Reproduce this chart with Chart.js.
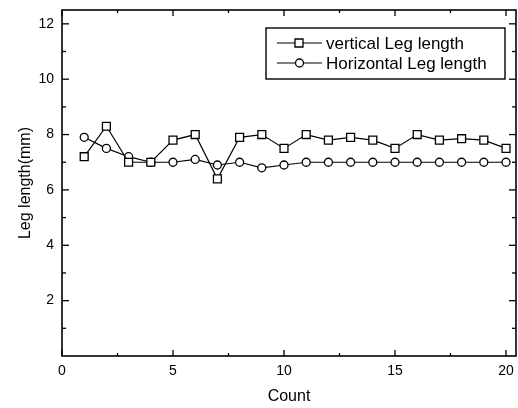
<!DOCTYPE html>
<html>
<head>
<meta charset="utf-8">
<script src="https://cdn.jsdelivr.net/npm/chart.js@4/dist/chart.umd.min.js"></script>
<style>
  html, body { margin: 0; padding: 0; background: #fff; }
  #wrap { width: 518px; height: 408px; }
</style>
</head>
<body>
<div id="wrap"><canvas id="c" width="518" height="408"></canvas></div>
<script>
const counts = [1, 2, 3, 4, 5, 6, 7, 8, 9, 10, 11, 12, 13, 14, 15, 16, 17, 18, 19, 20];
const verticalLeg = [7.2, 8.3, 7.0, 7.0, 7.8, 8.0, 6.4, 7.9, 8.0, 7.5, 8.0, 7.8, 7.9, 7.8, 7.5, 8.0, 7.8, 7.85, 7.8, 7.5];
const horizontalLeg = [7.9, 7.5, 7.2, 7.0, 7.0, 7.1, 6.9, 7.0, 6.8, 6.9, 7.0, 7.0, 7.0, 7.0, 7.0, 7.0, 7.0, 7.0, 7.0, 7.0];
const xTicks = [0, 5, 10, 15, 20];
const xMinorTicks = [2.5, 7.5, 12.5, 17.5];
const yTicks = [2, 4, 6, 8, 10, 12];
const yMinorTicks = [1, 3, 5, 7, 9, 11];
const seriesLabels = ['vertical Leg length', 'Horizontal Leg length'];

const FONT = "'Liberation Sans', Arial, Helvetica, sans-serif";

const framePlugin = {
  id: 'frame',
  afterDraw(chart) {
    const ctx = chart.ctx;
    const a = chart.chartArea;
    const xs = chart.scales.x, ys = chart.scales.y;
    ctx.save();
    ctx.strokeStyle = '#000';
    ctx.lineWidth = 1.6;
    ctx.strokeRect(a.left, a.top, a.right - a.left, a.bottom - a.top);
    ctx.lineWidth = 1.3;
    const tick = (x1, y1, x2, y2) => { ctx.beginPath(); ctx.moveTo(x1, y1); ctx.lineTo(x2, y2); ctx.stroke(); };
    xTicks.forEach(v => { const p = xs.getPixelForValue(v); tick(p, a.bottom, p, a.bottom - 6); tick(p, a.top, p, a.top + 6); });
    xMinorTicks.forEach(v => { const p = xs.getPixelForValue(v); tick(p, a.bottom, p, a.bottom - 3); tick(p, a.top, p, a.top + 3); });
    yTicks.forEach(v => { const p = ys.getPixelForValue(v); tick(a.left, p, a.left + 7, p); tick(a.right, p, a.right - 7, p); });
    yMinorTicks.forEach(v => { const p = ys.getPixelForValue(v); tick(a.left, p, a.left + 4, p); tick(a.right, p, a.right - 4, p); });

    // legend box
    const bx = 266, by = 28, bw = 239, bh = 51;
    ctx.fillStyle = '#fff';
    ctx.fillRect(bx, by, bw, bh);
    ctx.lineWidth = 1.4;
    ctx.strokeRect(bx, by, bw, bh);
    const rows = [43, 63];
    chart.data.datasets.forEach((ds, i) => {
      const y = rows[i];
      ctx.lineWidth = 1.2;
      tick(277, y, 322, y);
      ctx.fillStyle = '#fff';
      ctx.lineWidth = 1.3;
      ctx.beginPath();
      if (ds.pointStyle === 'rect') {
        ctx.rect(295, y - 4, 8, 8);
      } else {
        ctx.arc(299.5, y, 4, 0, Math.PI * 2);
      }
      ctx.fill();
      ctx.stroke();
      ctx.fillStyle = '#000';
      ctx.font = '17px ' + FONT;
      ctx.textBaseline = 'middle';
      ctx.textAlign = 'left';
      ctx.fillText(ds.label, 326, y + 1);
    });
    ctx.restore();
  }
};

new Chart(document.getElementById('c'), {
  type: 'line',
  data: {
    datasets: [
      {
        label: seriesLabels[0],
        data: counts.map((c, i) => ({ x: c, y: verticalLeg[i] })),
        borderColor: '#000',
        borderWidth: 1.2,
        pointStyle: 'rect',
        pointRadius: 5.6,
        pointBorderWidth: 1.3,
        pointBackgroundColor: '#fff',
        pointBorderColor: '#000',
        tension: 0
      },
      {
        label: seriesLabels[1],
        data: counts.map((c, i) => ({ x: c, y: horizontalLeg[i] })),
        borderColor: '#000',
        borderWidth: 1.2,
        pointStyle: 'circle',
        pointRadius: 4,
        pointBorderWidth: 1.3,
        pointBackgroundColor: '#fff',
        pointBorderColor: '#000',
        tension: 0
      }
    ]
  },
  options: {
    responsive: false,
    animation: false,
    devicePixelRatio: 1,
    layout: { autoPadding: false, padding: { top: 10, right: 2, left: 0, bottom: 0 } },
    plugins: { legend: { display: false }, tooltip: { enabled: false } },
    scales: {
      x: {
        type: 'linear',
        min: 0,
        max: 20.45,
        afterBuildTicks: s => { s.ticks = xTicks.map(v => ({ value: v })); },
        afterFit: s => { s.height = 52; s.paddingLeft = 0; s.paddingRight = 0; },
        grid: { display: false, drawTicks: false },
        border: { display: false },
        ticks: { color: '#000', font: { family: FONT, size: 14 }, padding: 7, maxRotation: 0, autoSkip: false },
        title: { display: true, text: 'Count', color: '#000', font: { family: FONT, size: 16 }, padding: { top: 0, bottom: 2 } }
      },
      y: {
        type: 'linear',
        min: 0,
        max: 12.5,
        afterBuildTicks: s => { s.ticks = yTicks.map(v => ({ value: v })); },
        afterFit: s => { s.width = 62; s.paddingTop = 0; s.paddingBottom = 0; },
        grid: { display: false, drawTicks: false },
        border: { display: false },
        ticks: { color: '#000', font: { family: FONT, size: 14 }, padding: 8 },
        title: { display: true, text: 'Leg length(mm)', color: '#000', font: { family: FONT, size: 16 }, padding: { top: 16, bottom: 0 } }
      }
    }
  },
  plugins: [framePlugin]
});
</script>
</body>
</html>
